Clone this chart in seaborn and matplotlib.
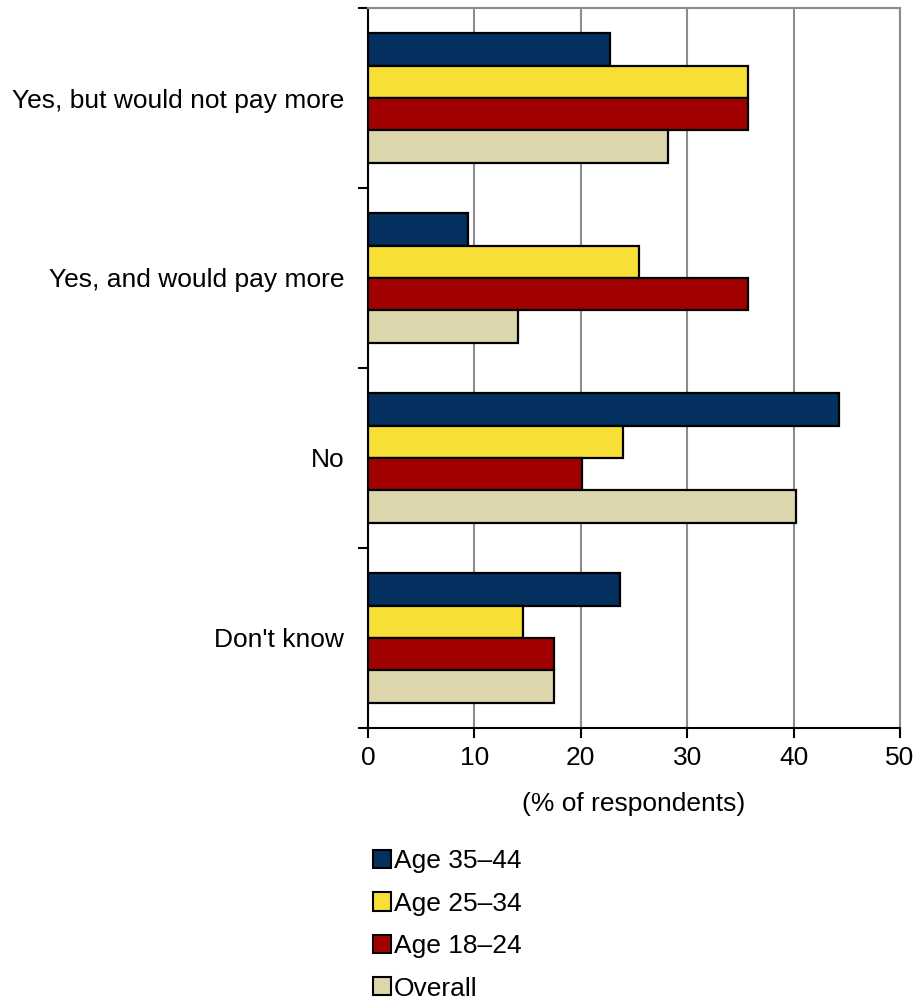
import matplotlib
matplotlib.use("Agg")
import matplotlib.pyplot as plt
import matplotlib.patches as mpatches
import numpy as np
import pandas as pd
import seaborn as sns

# categories (top to bottom) and series
categories = ["Yes, but would not pay more", "Yes, and would pay more", "No", "Don't know"]
groups = ["Age 35\u201344", "Age 25\u201334", "Age 18\u201324", "Overall"]
age_35_44 = [22.7, 9.4, 44.3, 23.7]
age_25_34 = [35.7, 25.5, 24.0, 14.6]
age_18_24 = [35.7, 35.7, 20.1, 17.5]
overall = [28.2, 14.1, 40.2, 17.5]
colors = ["#03305F", "#F7DF36", "#A00000", "#DDD6AC"]
x_ticks = [0, 10, 20, 30, 40, 50]

sns.set_theme(style="white")
plt.rcParams['font.family'] = ['Liberation Sans', 'DejaVu Sans']
plt.rcParams['text.color'] = 'black'
plt.rcParams['xtick.color'] = 'black'
plt.rcParams['ytick.color'] = 'black'
plt.rcParams['axes.labelcolor'] = 'black'

fs = 19

rows = []
for g, vals in zip(groups, [age_35_44, age_25_34, age_18_24, overall]):
    for c, v in zip(categories, vals):
        rows.append({"category": c, "group": g, "value": v})
df = pd.DataFrame(rows)

fig = plt.figure(figsize=(9.14, 10.02), dpi=100)
ax = fig.add_axes([0.4026, 0.2735, 0.9847 - 0.4026, 0.992 - 0.2735])

sns.barplot(data=df, y="category", x="value", hue="group", order=categories,
            hue_order=groups, palette=colors, saturation=1, orient="h", width=0.72,
            edgecolor="black", linewidth=1.6, legend=False, ax=ax, zorder=3)

ax.set_xlim(0, 50)
ax.set_ylim(3.5, -0.5)
ax.set_xticks(x_ticks)
ax.set_xticklabels([str(t) for t in x_ticks], fontsize=fs)
ax.xaxis.grid(True, color="#8c8c8c", linewidth=1.5, zorder=0)
ax.set_axisbelow(True)

# category labels centred, ticks at boundaries
ax.set_yticks(range(len(categories)))
ax.set_yticklabels(categories, fontsize=fs)
ax.set_yticks(np.arange(-0.5, len(categories), 1), minor=True)
ax.tick_params(axis="y", which="major", left=False, length=0, pad=17)
ax.tick_params(axis="y", which="minor", left=True, length=7, width=1.5, color="black", direction="out")
ax.tick_params(axis="x", which="major", bottom=True, length=7, width=1.5, color="black", direction="out", pad=6)

ax.set_ylabel("")
ax.set_xlabel("(% of respondents)", fontsize=fs, labelpad=16)

for s in ["left", "bottom"]:
    ax.spines[s].set_color("black")
    ax.spines[s].set_linewidth(1.5)
for s in ["top", "right"]:
    ax.spines[s].set_color("#8c8c8c")
    ax.spines[s].set_linewidth(1.5)

handles = [mpatches.Patch(facecolor=c, edgecolor="black", linewidth=1.5, label=g)
           for g, c in zip(groups, colors)]
fig.legend(handles=handles, loc="upper left", bbox_to_anchor=(0.397, 0.163),
           frameon=False, fontsize=fs, handlelength=0.68, handleheight=0.68,
           handletextpad=0.1, labelspacing=0.7, borderaxespad=0)

fig.savefig("out.png", dpi=100)
